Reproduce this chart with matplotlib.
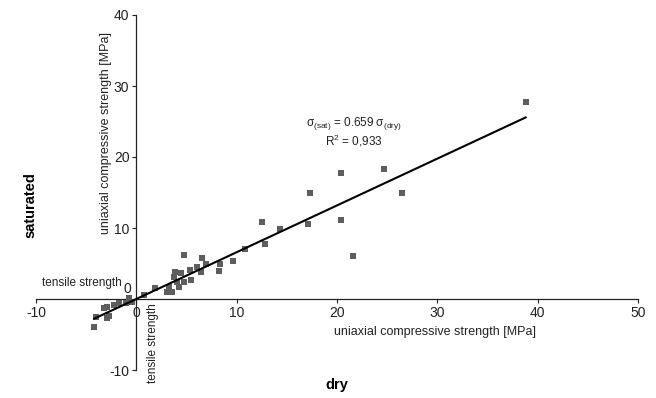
import matplotlib
matplotlib.use("Agg")
import matplotlib.pyplot as plt
import numpy as np

plt.rcParams['font.family'] = ['Liberation Sans', 'DejaVu Sans']
plt.rcParams['mathtext.fontset'] = 'custom'
plt.rcParams['mathtext.rm'] = 'Liberation Sans'
plt.rcParams['axes.unicode_minus'] = False

dry = [38.8, 24.7, 20.4, 17.3, 26.5, 20.4, 12.5, 17.1, 14.3, 12.8, 10.8, 21.6,
       4.8, 9.6, 8.3, 8.2, 6.5, 6.9, 6.0, 5.3, 6.4, 3.9, 4.5, 5.4, 3.8, 4.1,
       4.8, 3.3, 4.3, 3.1, 3.6, 1.9, 0.8, -0.7, -0.4, -1.0, -1.7, -2.2, -2.9,
       -3.2, -4.0, -2.7, -2.9, -4.2]
saturated = [27.7, 18.3, 17.7, 14.9, 14.9, 11.1, 10.8, 10.6, 9.9, 7.8, 7.0, 6.1,
             6.2, 5.4, 4.9, 3.9, 5.8, 4.9, 4.5, 4.1, 3.8, 3.8, 3.6, 2.7, 3.1, 2.4,
             2.4, 1.7, 1.7, 1.0, 1.0, 1.5, 0.6, 0.1, -0.4, -0.6, -0.6, -0.8, -1.1,
             -1.3, -2.5, -2.4, -2.7, -3.9]
slope = 0.659
fit_x = [-4.2, 38.8]
x_ticks = [-10, 0, 10, 20, 30, 40, 50]
y_ticks = [-10, 10, 20, 30, 40]

W, H = 656, 398
fig = plt.figure(figsize=(W / 100, H / 100), dpi=100)
ax = fig.add_axes([36 / W, 1 - 370 / H, (638 - 36) / W, (370 - 15) / H])
ax.set_xlim(-10, 50)
ax.set_ylim(-10, 40)

for s in ['top', 'right']:
    ax.spines[s].set_visible(False)
ax.spines['left'].set_position(('data', 0))
ax.spines['bottom'].set_position(('data', 0))
for s in ['left', 'bottom']:
    ax.spines[s].set_linewidth(0.9)
    ax.spines[s].set_color('#222222')

ax.set_xticks(x_ticks)
ax.set_xticklabels([str(t) for t in x_ticks])
ax.set_yticks(y_ticks)
ax.set_yticklabels([str(t) for t in y_ticks])
ax.tick_params(axis='both', direction='out', length=3, width=0.8, labelsize=10,
               colors='#222222', pad=2)
ax.text(-0.5, 0.4, '0', ha='right', va='bottom', fontsize=10, color='#222222')

ax.scatter(dry, saturated, marker='s', s=22, color='#5e5e5e', linewidths=0, zorder=3)
fx = np.array(fit_x)
ax.plot(fx, slope * fx, color='black', lw=1.5, zorder=4)

def ftext(px, py, s, **kw):
    fig.text(px / W, 1 - py / H, s, **kw)

ftext(30, 205, 'saturated', rotation=90, ha='center', va='center', fontsize=10.5,
      fontweight='bold')
ftext(337, 385, 'dry', ha='center', va='center', fontsize=10.5, fontweight='bold')
ftext(106, 133, 'uniaxial compressive strength [MPa]', rotation=90, ha='center',
      va='center', fontsize=9, color='#222222')
ftext(435, 332, 'uniaxial compressive strength [MPa]', ha='center', va='center',
      fontsize=9, color='#222222')
ftext(42, 283, 'tensile strength', ha='left', va='center', fontsize=8.5, color='#222222')
ftext(153, 343, 'tensile strength', rotation=90, ha='center', va='center',
      fontsize=8.5, color='#222222')
ftext(354, 124, r'σ$_{\mathrm{(sat)}}$ = 0.659 σ$_{\mathrm{(dry)}}$', ha='center',
      va='center', fontsize=8.5, color='#222222')
ftext(354, 141, r'R$^{\mathrm{2}}$ = 0,933', ha='center', va='center', fontsize=8.5,
      color='#222222')

fig.savefig('out.png', dpi=100)
